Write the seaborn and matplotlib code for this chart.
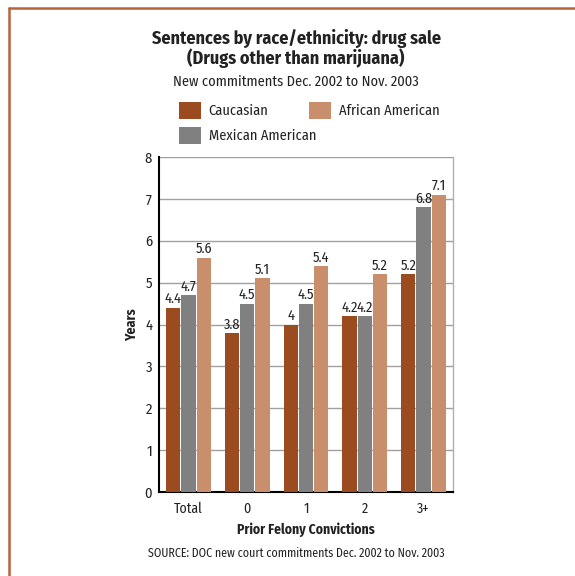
import matplotlib
matplotlib.use("Agg")
import matplotlib.pyplot as plt
from matplotlib.lines import Line2D
import seaborn as sns
import pandas as pd

categories = ["Total", "0", "1", "2", "3+"]
groups = ["Caucasian", "Mexican American", "African American"]
caucasian = [4.4, 3.8, 4.0, 4.2, 5.2]
mexican = [4.7, 4.5, 4.5, 4.2, 6.8]
african = [5.6, 5.1, 5.4, 5.2, 7.1]
colors = ["#9C4B20", "#808080", "#C98E6C"]

rows = []
for g, vals in zip(groups, [caucasian, mexican, african]):
    for c, v in zip(categories, vals):
        rows.append({"cat": c, "group": g, "val": v})
df = pd.DataFrame(rows)

sns.set_theme(style="white")
FONT = ["Fira Sans Condensed", "DejaVu Sans"]
plt.rcParams["font.family"] = FONT
TXT = "#222222"

fig = plt.figure(figsize=(5.75, 5.76), dpi=100)
ax = fig.add_axes([159/575, 1-492/576, (453-159)/575, (492-157)/576])

sns.barplot(data=df, x="cat", y="val", hue="group", hue_order=groups,
            order=categories, palette=colors, width=0.78, gap=0.06,
            saturation=1, ax=ax, zorder=3, edgecolor="none")

for cont in ax.containers:
    ax.bar_label(cont, fmt="%g", padding=1, fontsize=10.3, color=TXT)

handles, labels = ax.get_legend_handles_labels()
if ax.get_legend() is not None:
    ax.get_legend().remove()

ax.set_xlim(-0.5, 4.5)
ax.set_ylim(0, 8)
ax.set_yticks(range(0, 9))
ax.yaxis.grid(True, color="#a0a0a0", lw=1, zorder=0)
ax.set_axisbelow(True)
ax.tick_params(axis="y", direction="in", length=5, width=1.3, color="black",
               labelsize=10.5, pad=5, labelcolor=TXT)
ax.set_xticks(range(5))
ax.set_xticklabels(categories)
ax.tick_params(axis="x", which="major", length=0, labelsize=10, pad=7, labelcolor=TXT)
ax.set_xticks([0.5, 1.5, 2.5, 3.5, 4.5], minor=True)
ax.tick_params(axis="x", which="minor", direction="in", length=5, width=1.3, color="black")

for s in ["left", "bottom"]:
    ax.spines[s].set_color("black")
    ax.spines[s].set_linewidth(1.5)
ax.spines["top"].set_visible(False)
ax.spines["right"].set_color("#b0b0b0")
ax.spines["right"].set_linewidth(1)

ax.set_xlabel("Prior Felony Convictions", fontsize=9.8, fontweight="bold", labelpad=5, color=TXT)
ax.set_ylabel("Years", fontsize=10, fontweight="bold", labelpad=4, color=TXT)

fig.text(296/575, 1-38/576, "Sentences by race/ethnicity: drug sale", ha="center", va="center",
         fontsize=13, fontweight="bold", color=TXT)
fig.text(296/575, 1-58/576, "(Drugs other than marijuana)", ha="center", va="center",
         fontsize=13, fontweight="bold", color=TXT)
fig.text(296/575, 1-82/576, "New commitments Dec. 2002 to Nov. 2003", ha="center", va="center",
         fontsize=10.4, color=TXT)
fig.text(296/575, 1-553/576, "SOURCE: DOC new court commitments Dec. 2002 to Nov. 2003", ha="center",
         va="center", fontsize=8.6, color=TXT)

hmap = dict(zip(labels, handles))
legend_pos = {"Caucasian": (179, 102), "African American": (309, 102), "Mexican American": (179, 127)}
for name, (px, py) in legend_pos.items():
    lg = fig.legend([hmap[name]], [name], loc="upper left",
                    bbox_to_anchor=(px/575, 1-py/576), frameon=False, fontsize=10.4,
                    handlelength=1.55, handleheight=1.4, handletextpad=0.5,
                    borderaxespad=0, borderpad=0)
    for t in lg.get_texts():
        t.set_color(TXT)

fig.add_artist(Line2D([9/575, 1], [1-8/576, 1-8/576], color="#B5643C", lw=1.8))
fig.add_artist(Line2D([9/575, 9/575], [0, 1-8/576], color="#B5643C", lw=1.8))

fig.savefig("out.png", dpi=100)
